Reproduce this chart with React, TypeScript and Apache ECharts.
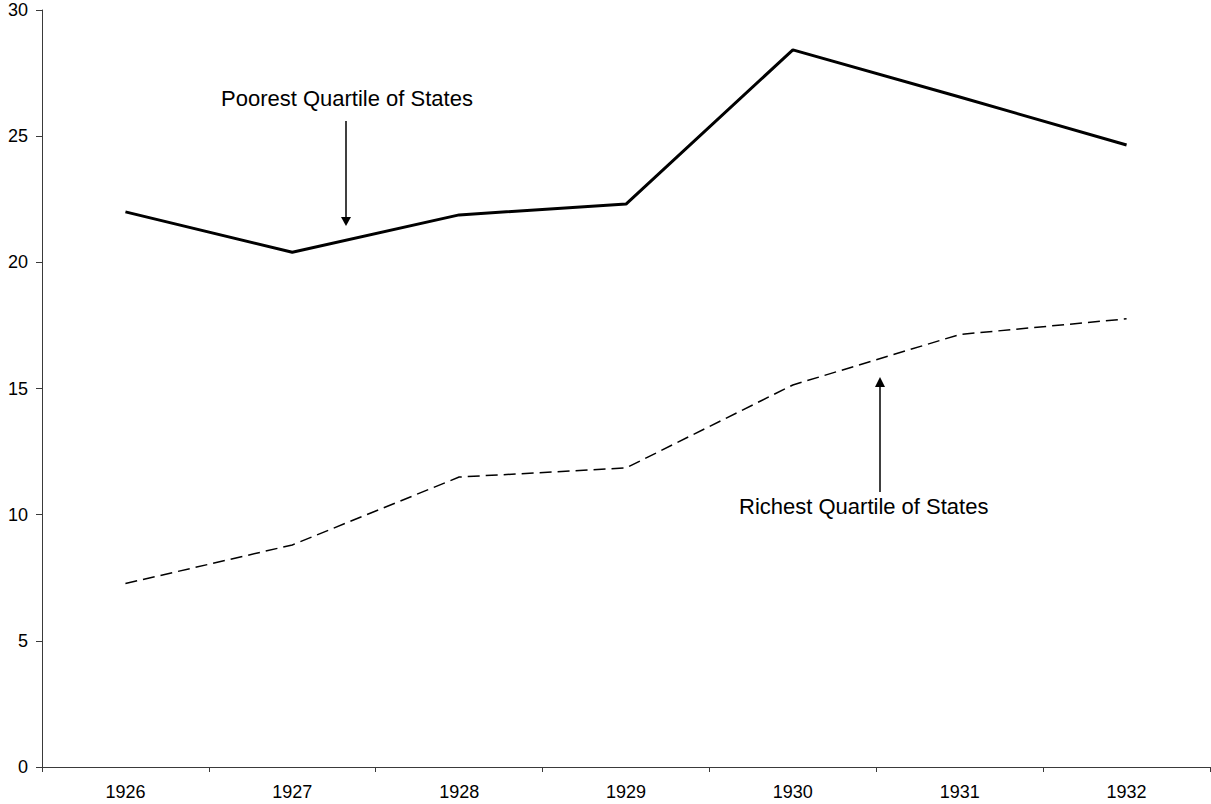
import React, { useEffect, useRef } from "react";
import * as echarts from "echarts";

const years = ["1926", "1927", "1928", "1929", "1930", "1931", "1932"];
const poorest = [22.0, 20.4, 21.88, 22.31, 28.42, 26.55, 24.65];
const richest = [7.27, 8.8, 11.49, 11.85, 15.14, 17.14, 17.76];
const poorLabel = "Poorest Quartile of States";
const richLabel = "Richest Quartile of States";

const FONT = "'Liberation Sans', Arial, sans-serif";
const AXIS_COLOR = "#3a3a3a";

export default function App() {
  const ref = useRef<HTMLDivElement>(null);
  useEffect(() => {
    if (!ref.current) return;
    const chart = echarts.init(ref.current, undefined, { renderer: "svg" });
    chart.setOption({
      animation: false,
      backgroundColor: "#ffffff",
      grid: { left: 42, right: 1, top: 10, bottom: 37, containLabel: false },
      xAxis: {
        type: "category",
        data: years,
        boundaryGap: true,
        axisLine: { lineStyle: { color: AXIS_COLOR, width: 1 } },
        axisTick: { show: true, length: 5, inside: false, lineStyle: { color: AXIS_COLOR } },
        axisLabel: { color: "#000", fontSize: 18, fontFamily: FONT, margin: 16 },
        splitLine: { show: false },
      },
      yAxis: {
        type: "value",
        min: 0,
        max: 30,
        interval: 5,
        axisLine: { show: true, lineStyle: { color: AXIS_COLOR, width: 1 } },
        axisTick: { show: true, length: 6, lineStyle: { color: AXIS_COLOR } },
        axisLabel: { color: "#000", fontSize: 18, fontFamily: FONT, margin: 14 },
        splitLine: { show: false },
      },
      series: [
        {
          name: "Poorest",
          type: "line",
          data: poorest,
          symbol: "none",
          lineStyle: { color: "#000", width: 3 },
        },
        {
          name: "Richest",
          type: "line",
          data: richest,
          symbol: "none",
          lineStyle: { color: "#000", width: 1.5, type: [12, 6] },
        },
      ],
      graphic: [
        {
          type: "text",
          left: 346 - 125,
          top: 87,
          style: { text: poorLabel, fontSize: 22, fontFamily: FONT, fill: "#000" },
        },
        {
          type: "line",
          shape: { x1: 346, y1: 121, x2: 346, y2: 218 },
          style: { stroke: "#000", lineWidth: 1.5 },
        },
        {
          type: "polygon",
          shape: { points: [[341, 217], [351, 217], [346, 226]] },
          style: { fill: "#000" },
        },
        {
          type: "text",
          left: 739,
          top: 495,
          style: { text: richLabel, fontSize: 22, fontFamily: FONT, fill: "#000" },
        },
        {
          type: "line",
          shape: { x1: 880, y1: 386, x2: 880, y2: 492 },
          style: { stroke: "#000", lineWidth: 1.5 },
        },
        {
          type: "polygon",
          shape: { points: [[875, 387], [885, 387], [880, 377]] },
          style: { fill: "#000" },
        },
      ],
    });
    return () => chart.dispose();
  }, []);
  return <div ref={ref} style={{ width: 1211, height: 804, position: "absolute", left: 0, top: 0 }} />;
}
